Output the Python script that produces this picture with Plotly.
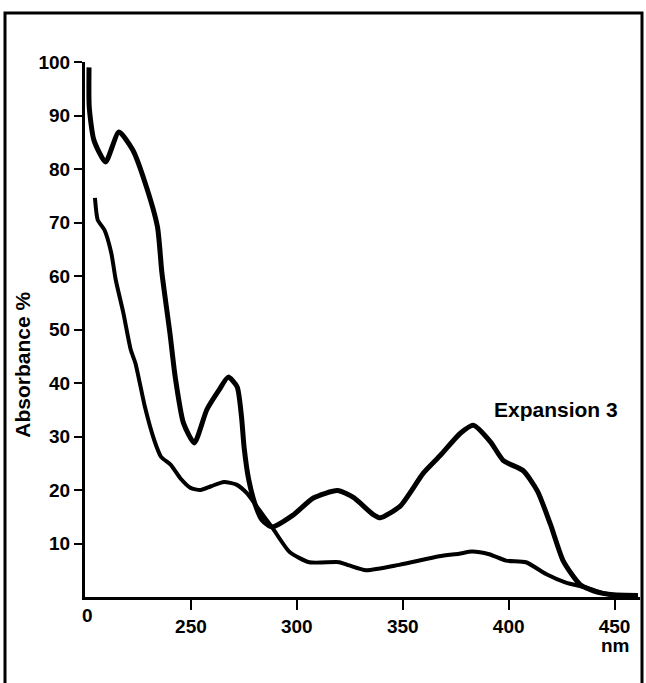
import plotly.graph_objects as go

# Curve with the strong UV bands (starts near 100 %)
wl_a = [201.9, 202.0, 204.2, 209.7, 216.0, 222.5, 228.4, 234.2, 236.3, 240.1, 242.6,
        246.5, 251.6, 257.5, 263.3, 267.6, 271.8, 273.9, 275.1, 277.3, 280.4, 283.6,
        288.2, 298.2, 307.8, 319.2, 326.7, 336.1, 339.4, 348.8, 359.8, 367.8, 377.2,
        383.3, 391.4, 397.5, 406.9, 413.6, 419.7, 425.8, 433.8, 441.8, 449.4, 461.0]
abs_a = [99.0, 91.6, 85.4, 81.3, 86.9, 83.6, 77.4, 69.2, 60.6, 49.3, 41.1,
         32.5, 28.8, 35.0, 38.7, 41.1, 39.3, 33.6, 28.0, 21.9, 17.2, 14.4,
         13.1, 15.3, 18.5, 19.9, 18.6, 15.4, 14.8, 17.0, 23.2, 26.5, 30.6,
         32.1, 29.0, 25.5, 23.6, 19.8, 13.6, 6.7, 2.3, 0.9, 0.4, 0.3]

# Curve starting near 74 %
wl_b = [204.7, 206.0, 209.2, 212.4, 214.5, 218.1, 221.6, 223.8, 228.3, 232.7, 235.9,
        240.5, 245.0, 249.8, 254.5, 259.5, 265.6, 271.5, 276.4, 281.3, 285.0, 288.2,
        296.6, 305.9, 320.0, 324.7, 332.7, 348.3, 367.2, 376.6, 382.7, 390.8, 398.8,
        408.2, 417.6, 427.0, 436.4, 443.9, 452.0, 461.0]
abs_b = [74.6, 70.5, 68.6, 64.3, 59.3, 53.1, 46.2, 43.7, 35.5, 29.3, 26.2,
         24.7, 22.2, 20.4, 20.0, 20.7, 21.5, 21.0, 19.4, 16.8, 14.8, 13.1,
         8.4, 6.5, 6.5, 5.9, 5.0, 6.0, 7.6, 8.1, 8.5, 8.0, 6.8,
         6.5, 4.3, 2.7, 1.8, 0.8, 0.3, 0.3]

x_tick_vals = [250, 300, 350, 400, 450]
x_tick_text = ["250", "300", "350", "400", "450"]
y_tick_vals = [10, 20, 30, 40, 50, 60, 70, 80, 90, 100]
y_tick_text = ["10", "20", "30", "40", "50", "60", "70", "80", "90", "100"]

origin_label = "0"
y_title = "Absorbance %"
x_unit = "nm"
series_label = "Expansion 3"

FONT = "Liberation Sans"

fig = go.Figure()
fig.add_trace(go.Scatter(x=wl_a, y=abs_a, mode="lines",
                         line=dict(color="black", width=5, shape="spline", smoothing=0.6),
                         cliponaxis=False, showlegend=False, hoverinfo="skip"))
fig.add_trace(go.Scatter(x=wl_b, y=abs_b, mode="lines",
                         line=dict(color="black", width=4, shape="spline", smoothing=0.6),
                         cliponaxis=False, showlegend=False, hoverinfo="skip"))

tickfont = dict(family=FONT, size=19, color="black", weight="bold")

fig.update_layout(
    width=646, height=683, autosize=False,
    margin=dict(l=85, r=6, t=62, b=86),
    paper_bgcolor="white", plot_bgcolor="white",
    xaxis=dict(range=[200, 462], showgrid=False, zeroline=False,
               showline=True, linecolor="black", linewidth=3,
               ticks="outside", ticklen=10, tickwidth=2, tickcolor="black",
               tickvals=x_tick_vals, ticktext=x_tick_text, tickfont=tickfont),
    yaxis=dict(range=[0, 100], showgrid=False, zeroline=False,
               showline=True, linecolor="black", linewidth=3,
               ticks="outside", ticklen=8, tickwidth=2, tickcolor="black",
               tickvals=y_tick_vals, ticktext=y_tick_text, tickfont=tickfont),
    annotations=[
        dict(text=origin_label, x=201, xref="x", y=-0.034, yref="paper",
             showarrow=False, xanchor="center", yanchor="middle", font=tickfont),
        dict(text=x_unit, x=450.5, xref="x", y=-0.09, yref="paper",
             showarrow=False, xanchor="center", yanchor="middle",
             font=dict(family=FONT, size=19, color="black", weight="bold")),
        dict(text=y_title, x=-0.112, xref="paper", y=0.434, yref="paper",
             showarrow=False, xanchor="center", yanchor="middle", textangle=-90,
             font=dict(family=FONT, size=21, color="black", weight="bold")),
        dict(text=series_label, x=392, xref="x", y=35, yref="y",
             showarrow=False, xanchor="left", yanchor="middle",
             font=dict(family=FONT, size=21, color="black", weight="bold")),
    ],
    shapes=[
        dict(type="rect", xref="paper", yref="paper",
             x0=(5 - 85) / 555, x1=(642 - 85) / 555,
             y0=(597 - 700) / 535, y1=(597 - 13) / 535,
             line=dict(color="black", width=3), fillcolor="rgba(0,0,0,0)", layer="above"),
    ],
)

fig.write_html("out.html", config={"displayModeBar": False},
               post_script="document.body.style.margin='0';document.body.style.overflow='hidden';")
